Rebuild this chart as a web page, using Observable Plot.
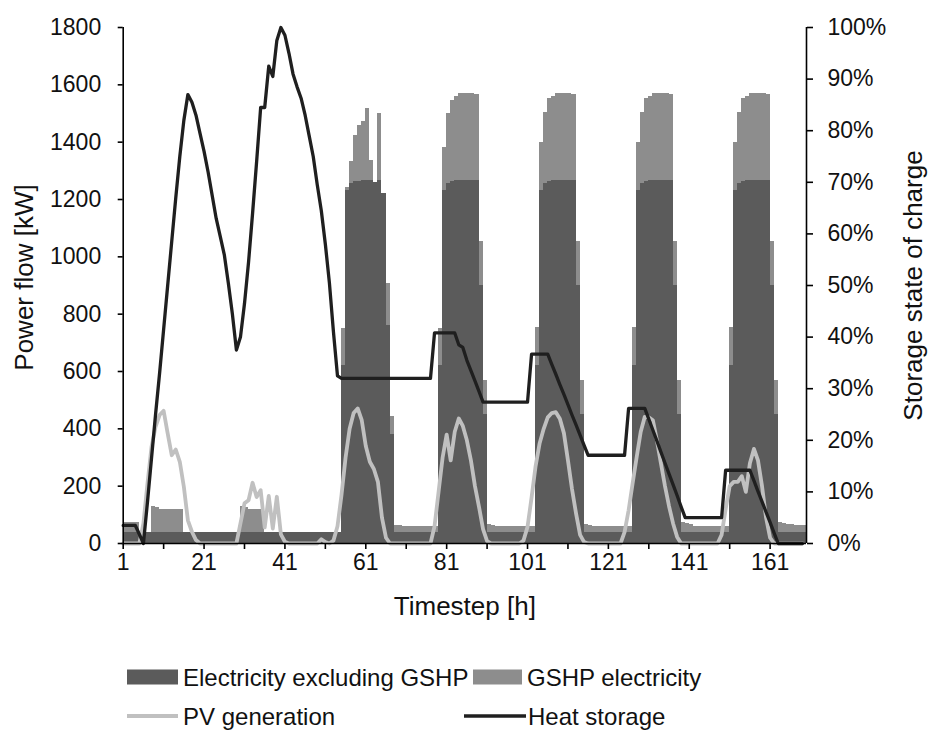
<!DOCTYPE html>
<html>
<head>
<meta charset="utf-8">
<script src="https://cdn.jsdelivr.net/npm/d3@7"></script>
<script src="https://cdn.jsdelivr.net/npm/@observablehq/plot@0.6"></script>
<style>
  html, body { margin: 0; padding: 0; background: #fff; }
  body { font-family: "Liberation Sans", Arial, sans-serif; }
  #wrap { width: 930px; }
  #legend { display: block; }
</style>
</head>
<body>
<div id="wrap">
  <div id="chart"></div>
  <svg id="legend" width="930" height="106"></svg>
</div>
<script>
// ---- data (hourly timesteps of one week) ----
const timestep = d3.range(1, 170);

const elecExclGSHP = [
  // day 1 (1-24)
  40,40,40,40,40,40,40,40,40,40,40,40,40,40,40,40,40,40,40,40,40,40,40,40,
  // day 2 (25-48)
  40,40,40,40,40,40,40,40,40,40,40,40,40,40,40,40,40,40,40,40,40,40,40,40,
  // day 3 (49-72)
  40,40,40,40,40,40,620,1232,1255,1262,1262,1265,1265,1265,1261,1267,1222,760,380,40,40,40,40,40,
  // day 4 (73-96)
  40,40,40,40,40,40,620,1230,1255,1262,1265,1267,1267,1267,1267,1267,900,450,40,40,40,40,40,40,
  // day 5 (97-120)
  40,40,40,40,40,40,620,1230,1255,1262,1265,1267,1267,1267,1267,1267,900,450,40,40,40,40,40,40,
  // day 6 (121-144)
  40,40,40,40,40,40,620,1230,1255,1262,1265,1267,1267,1267,1267,1267,900,450,40,40,40,40,40,40,
  // day 7 (145-168)
  40,40,40,40,40,40,620,1230,1255,1262,1265,1267,1267,1267,1267,1267,900,450,40,40,40,40,40,40,
  // 169
  40
];

const gshpElec = [
  32,32,32,32,0,0,0,90,85,80,78,78,78,78,78,0,0,0,0,0,0,0,0,0,
  0,0,0,0,0,88,85,80,78,78,78,0,0,0,0,0,0,0,0,0,0,0,0,0,
  0,0,0,0,0,0,130,10,76,162,197,206,252,72,0,233,0,147,62,24,22,20,20,18,
  18,18,18,18,18,18,130,150,245,285,295,303,303,303,303,300,152,120,25,22,20,20,18,18,
  18,18,18,18,18,18,135,170,250,290,296,303,303,303,303,300,152,120,25,22,20,20,18,18,
  18,18,18,18,18,18,135,170,250,290,296,303,303,303,303,300,152,120,35,30,25,20,18,18,
  18,18,18,18,18,18,135,170,250,290,296,303,303,303,303,300,152,120,35,30,28,25,22,22,
  22
];

const pvGeneration = [
  0,0,0,0,0,70,209,337,407,448,463,384,308,328,285,198,81,41,12,0,0,0,0,0,
  0,0,0,0,0,70,140,151,212,162,186,56,166,52,163,32,6,0,0,0,0,0,0,0,
  0,15,5,0,10,60,170,300,400,455,471,430,340,285,260,215,90,20,0,0,0,0,0,0,
  0,0,0,0,0,60,180,300,380,290,390,436,410,360,290,200,128,50,8,0,0,0,0,0,
  0,0,0,10,58,160,270,350,400,440,455,458,435,385,290,190,105,30,5,0,0,0,0,0,
  0,0,0,0,40,116,210,302,390,442,440,430,360,279,200,130,70,23,0,0,0,0,0,0,
  0,0,0,0,30,120,200,215,215,235,180,280,330,290,200,90,20,0,0,0,0,0,0,0,
  0
];

const heatStoragePct = [
  3.5,3.5,3.5,3.5,1.8,0,8,16.5,25,33,41.5,50,58.5,67,75,82,87,85.5,83,79.5,76,72,67.5,63,
  59.5,56,50.5,44.5,37.5,40,46.5,54.5,64,74,84.5,84.5,92.5,90.5,97.5,100,98.5,95,91,88.5,86.3,83,79,75,
  69.5,64.5,58,50.5,41,32.5,32,32,32,32,32,32,32,32,32,32,32,32,32,32,32,32,32,32,
  32,32,32,32,32,40.8,40.8,40.8,40.8,40.8,40.8,38.5,38,35.5,33.5,31.5,29.5,27.4,27.4,27.4,27.4,27.4,27.4,27.4,
  27.4,27.4,27.4,27.4,27.4,36.7,36.7,36.7,36.7,36.7,34.7,32.8,30.8,28.9,26.9,24.9,23,21,19,17.1,17.1,17.1,17.1,17.1,
  17.1,17.1,17.1,17.1,17.1,26.2,26.2,26.2,26.2,26.2,24.1,22,19.9,17.7,15.6,13.5,11.4,9.3,7.1,5,5,5,5,5,
  5,5,5,5,5,14.2,14.2,14.2,14.2,14.2,14.2,14.2,12.2,10.1,8.1,6.1,4.1,2,0,0,0,0,0,0,
  0
];

const seriesNames = ["Electricity excluding GSHP", "GSHP electricity"];
const seriesColors = ["#5b5b5b", "#8d8d8d"];
const pvColor = "#c0c0c0";
const heatColor = "#1f1f1f";

const leftTicks = [0, 200, 400, 600, 800, 1000, 1200, 1400, 1600, 1800];
const rightTicksPct = [0, 10, 20, 30, 40, 50, 60, 70, 80, 90, 100];
const xTicks = [1, 11, 21, 31, 41, 51, 61, 71, 81, 91, 101, 111, 121, 131, 141, 151, 161];
const xLabels = [1, 21, 41, 61, 81, 101, 121, 141, 161];

// ---- build tables ----
const rows = timestep.map((t, i) => ({
  t, base: elecExclGSHP[i], gshp: gshpElec[i], pv: pvGeneration[i], hs: heatStoragePct[i]
}));
const bars = rows.flatMap(d => [
  {t: d.t, series: seriesNames[0], v: d.base},
  {t: d.t, series: seriesNames[1], v: d.gshp}
]);
const pctScale = 1800 / 100;

const font = "'Liberation Sans', Arial, sans-serif";
const textColor = "#111";

const chart = Plot.plot({
  width: 930,
  height: 625,
  marginLeft: 122.7,
  marginRight: 124,
  marginTop: 27,
  marginBottom: 82,
  style: {fontFamily: font, fontSize: "24px", color: textColor, background: "#fff", overflow: "visible"},
  x: {type: "linear", domain: [1, 170]},
  y: {domain: [0, 1800]},
  color: {domain: seriesNames, range: seriesColors},
  marks: [
    Plot.rectY(bars, {x1: "t", x2: d => d.t + 1, y: "v", fill: "series", shapeRendering: "crispEdges"}),
    Plot.line(rows, {x: "t", y: "pv", stroke: pvColor, strokeWidth: 3.8, strokeLinejoin: "round"}),
    Plot.line(rows, {x: "t", y: d => d.hs * pctScale, stroke: heatColor, strokeWidth: 3.3, strokeLinejoin: "round"}),
    Plot.ruleX([1, 170], {stroke: "#000", strokeWidth: 1.6}),
    Plot.ruleY([0], {stroke: "#000", strokeWidth: 1.6}),
    Plot.axisY(leftTicks, {anchor: "left", label: null, tickSize: 5, tickPadding: 17, fontSize: 23,
      tickFormat: d => String(d), stroke: "#000", strokeWidth: 1.6}),
    Plot.axisY(rightTicksPct.map(p => p * pctScale), {anchor: "right", label: null, tickSize: 6, tickPadding: 15, fontSize: 23,
      tickFormat: d => Math.round(d / pctScale) + "%", stroke: "#000", strokeWidth: 1.6}),
    Plot.axisX(xTicks, {anchor: "bottom", label: null, tickSize: 6, tickPadding: 4, fontSize: 23, stroke: "#000", strokeWidth: 1.6,
      tickFormat: d => xLabels.includes(d) ? String(d) : ""}),
    Plot.text(["Power flow [kW]"], {frameAnchor: "left", dx: -99, dy: -8, rotate: -90, fontSize: 26, fill: textColor,
      textAnchor: "middle", lineAnchor: "middle"}),
    Plot.text(["Storage state of charge"], {frameAnchor: "right", dx: 107, rotate: -90, fontSize: 26, fill: textColor,
      textAnchor: "middle", lineAnchor: "middle"}),
    Plot.text(["Timestep [h]"], {frameAnchor: "bottom", dy: 63, fontSize: 26, fill: textColor,
      textAnchor: "middle", lineAnchor: "middle"})
  ]
});
document.getElementById("chart").appendChild(chart);

// ---- legend below the chart ----
const lg = d3.select("#legend").style("font-family", font);
const row1 = 52, row2 = 91;
const items = [
  {type: "rect", color: seriesColors[0], x0: 127, x1: 178, y: row1, label: seriesNames[0], tx: 183},
  {type: "rect", color: seriesColors[1], x0: 473, x1: 522, y: row1, label: seriesNames[1], tx: 527},
  {type: "line", color: pvColor, x0: 127, x1: 178, y: row2, label: "PV generation", tx: 183},
  {type: "line", color: heatColor, x0: 464, x1: 526, y: row2, label: "Heat storage", tx: 528}
];
for (const it of items) {
  if (it.type === "rect") {
    lg.append("rect").attr("x", it.x0).attr("y", it.y - 7.5).attr("width", it.x1 - it.x0).attr("height", 15).attr("fill", it.color);
  } else {
    lg.append("line").attr("x1", it.x0).attr("x2", it.x1).attr("y1", it.y).attr("y2", it.y)
      .attr("stroke", it.color).attr("stroke-width", it.color === pvColor ? 3.8 : 3.3);
  }
  lg.append("text").attr("x", it.tx).attr("y", it.y).attr("dominant-baseline", "central")
    .attr("font-size", 24).attr("fill", textColor).text(it.label);
}
</script>
</body>
</html>
